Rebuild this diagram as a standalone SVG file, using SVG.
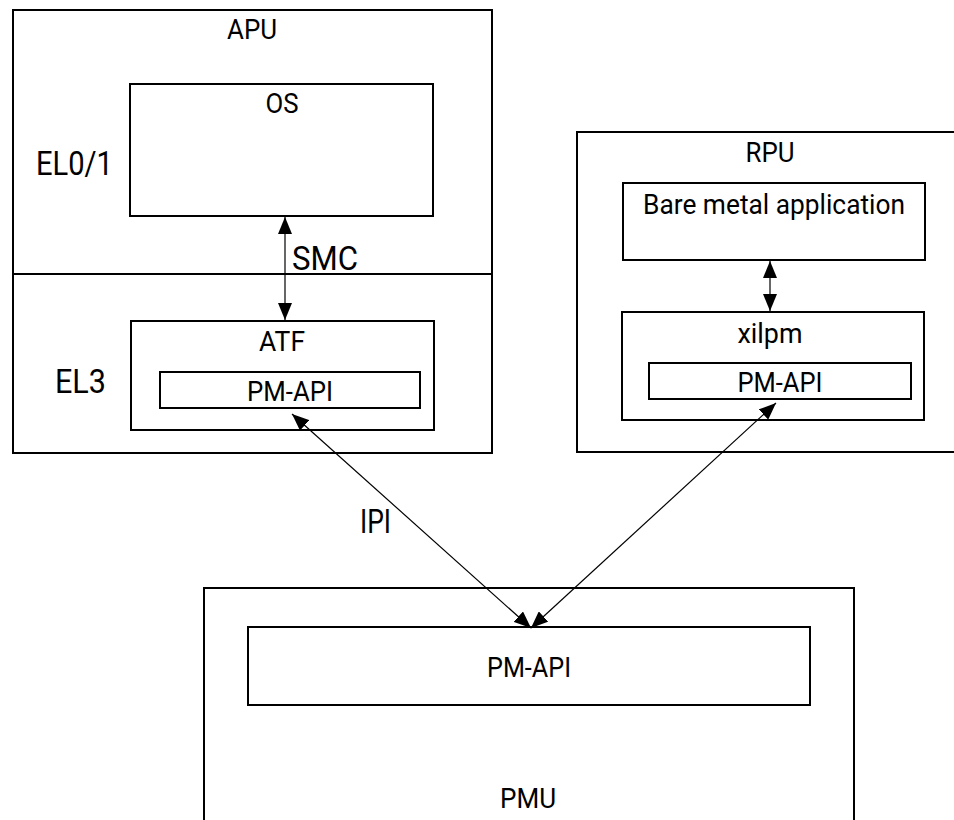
<svg xmlns="http://www.w3.org/2000/svg" width="954" height="820" viewBox="0 0 954 820">
<defs>
<style>
.box{fill:#fff;stroke:#000;stroke-width:2}
.t{font-family:Roboto,"Liberation Sans",sans-serif;font-size:28px;fill:#000;text-anchor:middle}
.b{font-family:Roboto,"Liberation Sans",sans-serif;font-size:33px;fill:#000}
.c{stroke:#000;stroke-width:1.2;fill:none;marker-start:url(#ah);marker-end:url(#ah)}
</style>
<marker id="ah" viewBox="0 0 17 14" refX="17" refY="7" markerWidth="17" markerHeight="14" markerUnits="userSpaceOnUse" orient="auto-start-reverse">
<path d="M0,0 L17,7 L0,14 z" fill="#000"/>
</marker>
</defs>
<rect width="954" height="820" fill="#fff"/>
<g id="apu">
<rect class="box" x="13" y="10" width="479" height="443"/>
<line x1="13" y1="274" x2="492" y2="274" stroke="#000" stroke-width="2"/>
<text class="t" x="252" y="39" textLength="50" lengthAdjust="spacingAndGlyphs">APU</text>
<text class="b" x="36" y="175" textLength="77" lengthAdjust="spacingAndGlyphs">EL0/1</text>
<text class="b" x="55" y="393" textLength="51" lengthAdjust="spacingAndGlyphs">EL3</text>
</g>
<g id="os">
<rect class="box" x="130" y="84" width="303" height="132"/>
<text class="t" x="282" y="113" textLength="33" lengthAdjust="spacingAndGlyphs">OS</text>
</g>
<g id="atf">
<rect class="box" x="131" y="321" width="303" height="109"/>
<text class="t" x="282" y="351" textLength="46" lengthAdjust="spacingAndGlyphs">ATF</text>
</g>
<g id="atf-pmapi">
<rect class="box" x="160" y="372" width="260" height="36"/>
<text class="t" x="290" y="401" textLength="86" lengthAdjust="spacingAndGlyphs">PM-API</text>
</g>
<g id="rpu">
<rect class="box" x="577" y="132" width="385" height="320"/>
<text class="t" x="770" y="162" textLength="49" lengthAdjust="spacingAndGlyphs">RPU</text>
</g>
<g id="bare">
<rect class="box" x="623" y="183" width="302" height="77"/>
<text class="t" x="774" y="214" textLength="262" lengthAdjust="spacingAndGlyphs">Bare metal application</text>
</g>
<g id="xilpm">
<rect class="box" x="622" y="312" width="302" height="108"/>
<text class="t" x="770" y="343" textLength="65" lengthAdjust="spacingAndGlyphs">xilpm</text>
</g>
<g id="rpu-pmapi">
<rect class="box" x="649" y="363" width="262" height="36"/>
<text class="t" x="780" y="392" textLength="85" lengthAdjust="spacingAndGlyphs">PM-API</text>
</g>
<g id="pmu">
<rect class="box" x="204" y="588" width="650" height="260"/>
<text class="t" x="528" y="808" textLength="56" lengthAdjust="spacingAndGlyphs">PMU</text>
</g>
<g id="pmu-pmapi">
<rect class="box" x="248" y="627" width="562" height="78"/>
<text class="t" x="529" y="677" textLength="84" lengthAdjust="spacingAndGlyphs">PM-API</text>
</g>
<g id="connectors">
<line class="c" x1="285" y1="217" x2="285" y2="320" stroke="#333"/>
<line class="c" x1="770" y1="261" x2="770" y2="311"/>
<line class="c" x1="292" y1="414" x2="531" y2="628"/>
<line class="c" x1="776" y1="403" x2="531" y2="628"/>
<text class="b" x="292" y="270" textLength="66" lengthAdjust="spacingAndGlyphs">SMC</text>
<text class="b" x="360" y="533" textLength="31" lengthAdjust="spacingAndGlyphs">IPI</text>
</g>
</svg>
